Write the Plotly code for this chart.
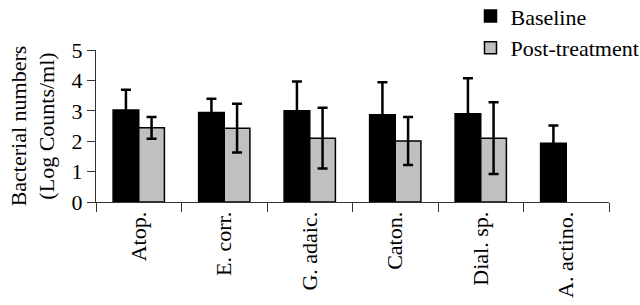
import plotly.graph_objects as go

categories = ["Atop.", "E. corr.", "G. adaic.", "Caton.", "Dial. sp.", "A. actino."]
baseline = [3.03, 2.94, 3.0, 2.87, 2.90, 1.93]
baseline_err = [0.66, 0.46, 0.96, 1.07, 1.17, 0.59]
post = [2.44, 2.43, 2.10, 2.01, 2.10, None]
post_err = [0.36, 0.80, 1.0, 0.79, 1.18, None]
y_ticks = [0, 1, 2, 3, 4, 5]

FONT = "Liberation Serif"

fig = go.Figure()
fig.add_trace(go.Bar(
    name="Baseline", x=categories, y=baseline,
    marker=dict(color="black", line=dict(color="black", width=1.5)),
    error_y=dict(type="data", array=baseline_err, color="black", thickness=2.5, width=5),
))
fig.add_trace(go.Bar(
    name="Post-treatment", x=categories, y=post,
    marker=dict(color="#c0c0c0", line=dict(color="black", width=1.5)),
    error_y=dict(type="data", array=post_err, color="black", thickness=2.5, width=5),
))

fig.update_layout(
    width=640, height=305,
    margin=dict(l=96, r=31, t=50, b=103, autoexpand=False),
    paper_bgcolor="white", plot_bgcolor="white",
    font=dict(family=FONT, size=22, color="black"),
    barmode="group", bargap=0.4, bargroupgap=0,
    showlegend=True,
    legend=dict(x=0.73, y=1.36, xanchor="left", yanchor="top",
                font=dict(family=FONT, size=22), bgcolor="rgba(0,0,0,0)",
                tracegroupgap=0, itemwidth=30),
    xaxis=dict(showline=True, linecolor="#333", linewidth=1,
               ticks="outside", tickson="boundaries", ticklen=9, tickcolor="#333",
               tickangle=-90, tickfont=dict(family=FONT, size=22)),
    yaxis=dict(range=[0, 5], tickvals=y_ticks, showline=True, linecolor="#333",
               linewidth=1, ticks="outside", ticklen=8, tickcolor="#333",
               showgrid=False, zeroline=False,
               tickfont=dict(family=FONT, size=22),
               title=dict(text="Bacterial numbers<br>(Log Counts/ml)",
                          font=dict(family=FONT, size=22), standoff=10)),
)

fig.write_html("out.html",
               config={"displayModeBar": False},
               post_script="document.body.style.margin='0';document.body.style.overflow='hidden';")
